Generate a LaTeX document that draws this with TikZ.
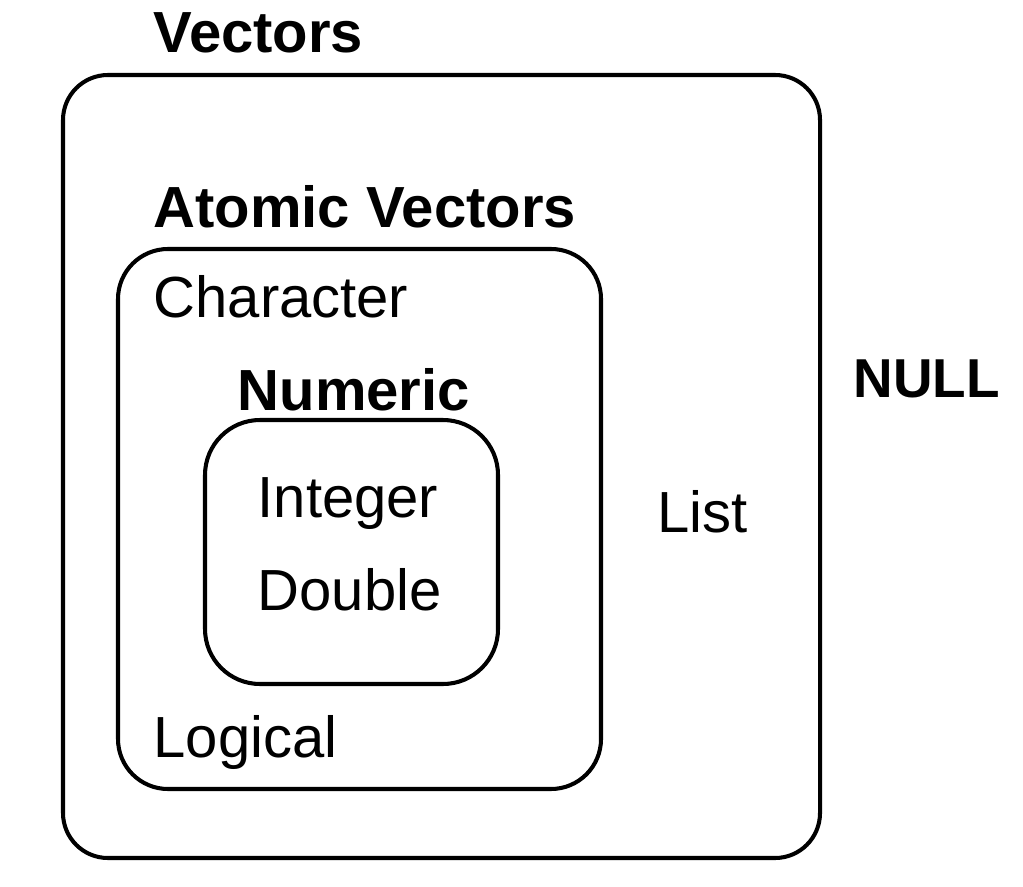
\documentclass[tikz,border=0pt]{standalone}
\usepackage{fontspec}
\setmainfont{Liberation Sans}

\definecolor{ink}{HTML}{000000}

\begin{document}
\begin{tikzpicture}[font=\fontsize{16.5}{20}\selectfont, text=ink]
  \useasboundingbox (0,0) rectangle (10.23,8.86);
  % Nested sets: vectors, atomic vectors, numeric; rounded frames only.
  \draw[ink,line width=1.15pt,rounded corners=0.45cm] (0.63,0.28) rectangle (8.20,8.11);
  \draw[ink,line width=1.15pt,rounded corners=0.5cm] (1.18,0.97) rectangle (6.01,6.37);
  \draw[ink,line width=1.15pt,rounded corners=0.55cm] (2.05,2.02) rectangle (4.98,4.66);

  % Set names sit just above each frame.
  \tikzset{setname/.style={font=\fontsize{16.5}{20}\selectfont\bfseries,anchor=base west,inner sep=0pt}}
  \node[setname] (vectors) at (1.53,8.33) {Vectors};
  \node[setname] (atomic) at (1.53,6.58) {Atomic Vectors};
  \node[setname] (numeric) at (2.37,4.76) {Numeric};
  \node[setname,font=\fontsize{15.6}{19}\selectfont\bfseries] (null) at (8.53,4.89) {NULL};

  % One type per line inside its set.
  \tikzset{member/.style={anchor=base west,inner sep=0pt}}
  \node[member] (character) at (1.53,5.68) {Character};
  \node[member] (integer) at (2.57,3.69) {Integer};
  \node[member] (double) at (2.57,2.76) {Double};
  \node[member] (logical) at (1.53,1.29) {Logical};
  \node[member] (list) at (6.57,3.54) {List};
\end{tikzpicture}
\end{document}
